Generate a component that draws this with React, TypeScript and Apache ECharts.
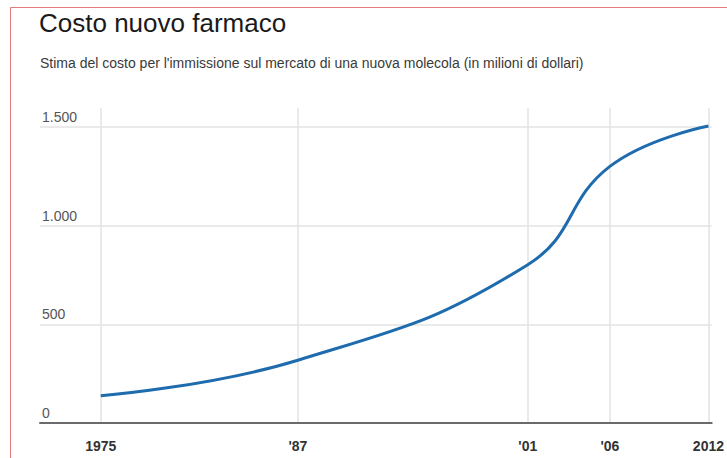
import React, { useEffect, useRef } from "react";
import * as echarts from "echarts";

const titleText = "Costo nuovo farmaco";
const subtitleText =
  "Stima del costo per l'immissione sul mercato di una nuova molecola (in milioni di dollari)";
const years = [1975, 1987, 2001, 2006, 2012];
const costs = [138, 318, 802, 1300, 1505];
const xTickValues = [1975, 1987, 2001, 2006, 2012];
const xTickLabels = ["1975", "'87", "'01", "'06", "2012"];
const yTickValues = [0, 500, 1000, 1500];
const yTickLabels = ["0", "500", "1.000", "1.500"];

export default function App() {
  const ref = useRef<HTMLDivElement>(null);
  useEffect(() => {
    if (!ref.current) return;
    const chart = echarts.init(ref.current, undefined, { renderer: "svg" });
    const font = "'Liberation Sans', Arial, sans-serif";
    chart.setOption({
      animation: false,
      backgroundColor: "#ffffff",
      textStyle: { fontFamily: font },
      title: [
        {
          text: titleText,
          left: 39,
          top: 10,
          padding: 0,
          textStyle: { fontSize: 26, fontWeight: "normal", color: "#1a1a1a", fontFamily: font },
        },
        {
          text: subtitleText,
          left: 40,
          top: 56,
          padding: 0,
          textStyle: { fontSize: 14, fontWeight: "normal", color: "#3a3a3a", fontFamily: font },
        },
      ],
      graphic: [
        { type: "line", shape: { x1: 10.5, y1: 7.5, x2: 727, y2: 7.5 }, style: { stroke: "#e47b7b", lineWidth: 1 } },
        { type: "line", shape: { x1: 10.5, y1: 7.5, x2: 10.5, y2: 458 }, style: { stroke: "#e47b7b", lineWidth: 1 } },
      ],
      grid: { left: 40, right: 15, top: 108, bottom: 35, containLabel: false },
      xAxis: {
        type: "value",
        min: 1971.3,
        max: 2012.2,
        axisLine: { show: true, lineStyle: { color: "#6a6a6a", width: 2 } },
        axisTick: { show: false, customValues: xTickValues },
        axisLabel: {
          customValues: xTickValues,
          formatter: (v: number) => xTickLabels[xTickValues.indexOf(Math.round(v))] ?? "",
          fontSize: 14,
          fontWeight: "bold",
          color: "#333333",
          margin: 16,
          fontFamily: font,
        },
        splitLine: { show: true, lineStyle: { color: "#e3e3e3", width: 1.5 } },
      },
      yAxis: {
        type: "value",
        min: 0,
        max: 1596,
        interval: 500,
        axisLine: { show: false },
        axisTick: { show: false, customValues: yTickValues },
        axisLabel: {
          customValues: yTickValues,
          inside: true,
          formatter: (v: number) => yTickLabels[yTickValues.indexOf(Math.round(v))] ?? "",
          verticalAlign: "bottom",
          align: "left",
          margin: 2,
          padding: [0, 0, 3, 0],
          fontSize: 14,
          color: "#555555",
          fontFamily: font,
        },
        splitLine: { show: true, lineStyle: { color: "#e3e3e3", width: 1.5 } },
      },
      series: [
        {
          type: "line",
          data: years.map((y, i) => [y, costs[i]]),
          smooth: 0.45,
          showSymbol: false,
          lineStyle: { color: "#1e6bae", width: 3 },
          itemStyle: { color: "#1e6bae" },
        },
      ],
    });
    return () => chart.dispose();
  }, []);
  return (
    <div
      ref={ref}
      style={{ position: "absolute", left: 0, top: 0, width: 727, height: 458 }}
    />
  );
}
